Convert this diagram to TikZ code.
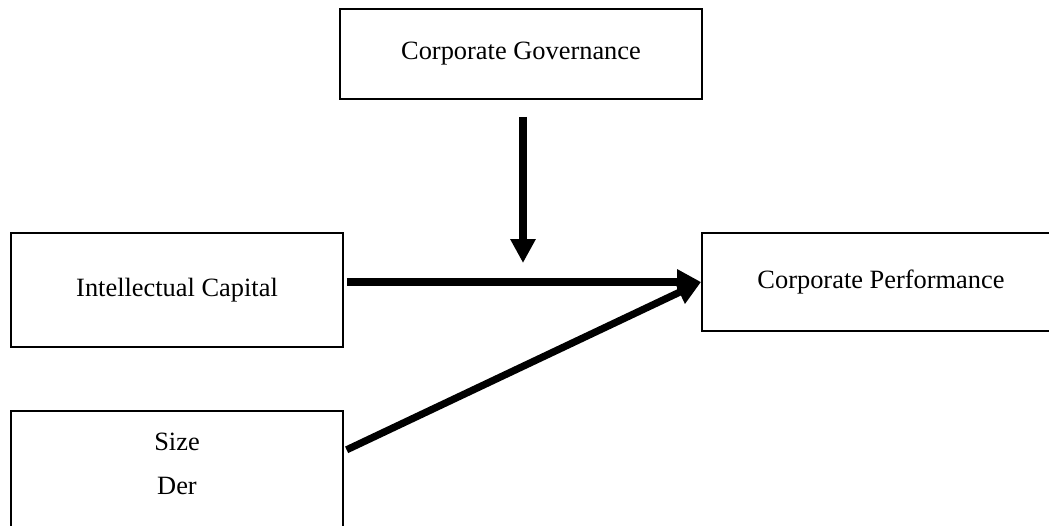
\documentclass[tikz,border=0pt]{standalone}
\usepackage{fontspec}
\setmainfont{Liberation Serif}
\usetikzlibrary{arrows.meta,positioning}

\tikzset{
  box/.style={draw, rectangle, line width=0.9pt, font=\fontsize{13.2}{16}\selectfont},
  lbl/.style={font=\fontsize{13.2}{16}\selectfont},
  conn/.style={line width=3.6pt, -{Triangle[length=12pt,width=12pt]}}
}

\begin{document}
\begin{tikzpicture}[x=0.5pt,y=-0.5pt]
\useasboundingbox (0,0) rectangle (1049,525);

\node (gov) at (521,54) [box, minimum width=181pt, minimum height=45pt] {Corporate Governance};
\node (ic) at (177,290) [box, minimum width=166pt, minimum height=57pt] {Intellectual Capital};
\node (perf) at (881,282) [box, minimum width=179pt, minimum height=49pt] {Corporate Performance};
\node (size) at (177,486) [box, minimum width=166pt, minimum height=75pt] {};

\node (l0) at (177,442) [lbl] {Size};
\node (l1) at (177,486) [lbl] {Der};

\coordinate (mod) at (523,263);

\draw[conn, shorten <=8.5pt] (gov.south -| mod) -- (mod);
\draw[conn, shorten <=1.5pt] (ic.east |- perf.west) -- (perf.west);
\draw[conn, shorten <=1.5pt] ([yshift=-20.5pt]size.north east) -- (perf.west);
\end{tikzpicture}
\end{document}
